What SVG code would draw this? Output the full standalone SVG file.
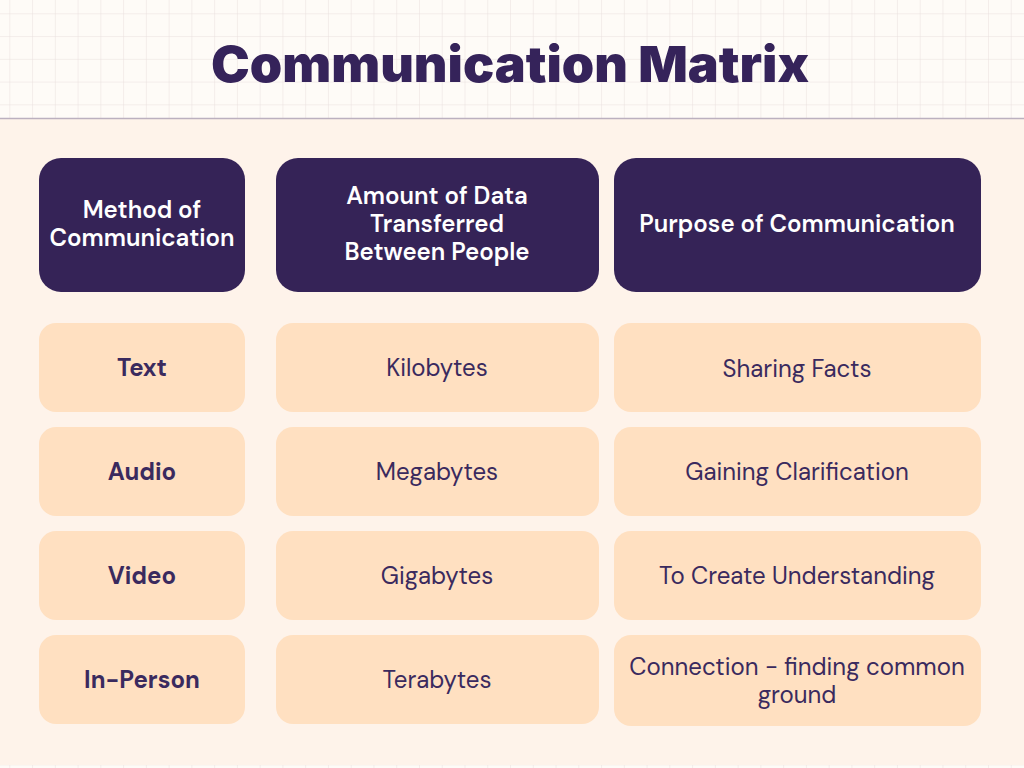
<svg xmlns="http://www.w3.org/2000/svg" width="1024" height="768" viewBox="0 0 1024 768">
<defs>
<pattern id="grid" x="9.3" y="13.3" width="22.76" height="22.76" patternUnits="userSpaceOnUse">
<path d="M0 0H22.76M0 0V22.76" fill="none" stroke="#E9DFDE" stroke-width="1"/>
</pattern>
<style>
.hd{fill:#352357}
.cell{fill:#FFE0C1}
.ht{font-family:"DM Sans","Inter","Liberation Sans",sans-serif;font-weight:600;font-size:24px;fill:#FFFFFF;text-anchor:middle}
.bt{font-family:"DM Sans","Inter","Liberation Sans",sans-serif;font-weight:400;font-size:24px;fill:#3A2A5E;text-anchor:middle}
.bb{font-weight:700}
.title{font-family:"Inter","DejaVu Sans",sans-serif;font-weight:900;font-size:50px;fill:#35235A;text-anchor:middle}
</style>
</defs>
<rect width="1024" height="768" fill="#FEFBF7"/>
<rect width="1024" height="768" fill="url(#grid)"/>
<rect x="0" y="118" width="1024" height="647" fill="#FEF3EA"/>
<line x1="0" y1="118.5" x2="1024" y2="118.5" stroke="#BBB0BF" stroke-width="1.5"/>
<text class="title" x="510" y="82" textLength="598" lengthAdjust="spacingAndGlyphs">Communication Matrix</text>

<g id="h1"><rect class="hd" x="39" y="158" width="206" height="134" rx="22"/><text class="ht" x="142" y="218">Method of</text><text class="ht" x="142" y="246">Communication</text></g>
<g id="h2"><rect class="hd" x="276" y="158" width="323" height="134" rx="22"/><text class="ht" x="437" y="204">Amount of Data</text><text class="ht" x="437" y="232">Transferred</text><text class="ht" x="437" y="260">Between People</text></g>
<g id="h3"><rect class="hd" x="614" y="158" width="367" height="134" rx="22"/><text class="ht" x="797" y="232">Purpose of Communication</text></g>

<g id="r1c1"><rect class="cell" x="39" y="323" width="206" height="89" rx="17"/><text class="bt bb" x="142" y="376">Text</text></g>
<g id="r1c2"><rect class="cell" x="276" y="323" width="323" height="89" rx="17"/><text class="bt" x="437" y="376">Kilobytes</text></g>
<g id="r1c3"><rect class="cell" x="614" y="323" width="367" height="89" rx="17"/><text class="bt" x="797" y="377">Sharing Facts</text></g>

<g id="r2c1"><rect class="cell" x="39" y="427" width="206" height="89" rx="17"/><text class="bt bb" x="142" y="480">Audio</text></g>
<g id="r2c2"><rect class="cell" x="276" y="427" width="323" height="89" rx="17"/><text class="bt" x="437" y="480">Megabytes</text></g>
<g id="r2c3"><rect class="cell" x="614" y="427" width="367" height="89" rx="17"/><text class="bt" x="797" y="480">Gaining Clarification</text></g>

<g id="r3c1"><rect class="cell" x="39" y="531" width="206" height="89" rx="17"/><text class="bt bb" x="142" y="584">Video</text></g>
<g id="r3c2"><rect class="cell" x="276" y="531" width="323" height="89" rx="17"/><text class="bt" x="437" y="584">Gigabytes</text></g>
<g id="r3c3"><rect class="cell" x="614" y="531" width="367" height="89" rx="17"/><text class="bt" x="797" y="584">To Create Understanding</text></g>

<g id="r4c1"><rect class="cell" x="39" y="635" width="206" height="89" rx="17"/><text class="bt bb" x="142" y="688">In-Person</text></g>
<g id="r4c2"><rect class="cell" x="276" y="635" width="323" height="89" rx="17"/><text class="bt" x="437" y="688">Terabytes</text></g>
<g id="r4c3"><rect class="cell" x="614" y="635" width="367" height="91" rx="17"/><text class="bt" x="797" y="675">Connection - finding common</text><text class="bt" x="797" y="703">ground</text></g>
</svg>
